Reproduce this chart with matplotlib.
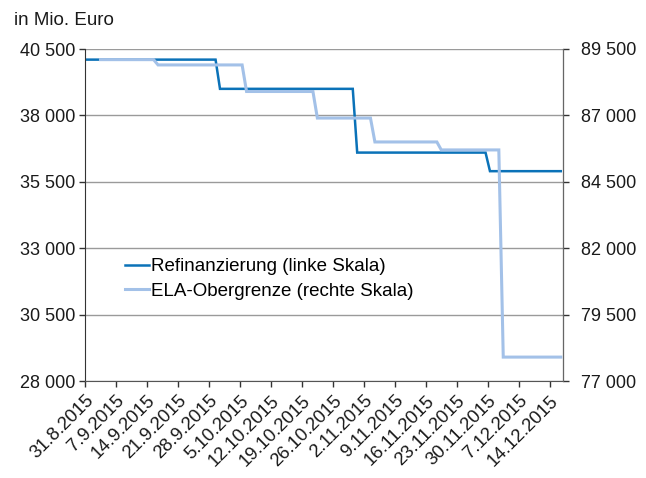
import matplotlib
matplotlib.use("Agg")
import matplotlib.pyplot as plt
import pandas as pd
from matplotlib.ticker import FuncFormatter

# Refinanzierung (left scale), breakpoints of the daily series
ref_dates = ["2015-08-31", "2015-09-29", "2015-09-30", "2015-10-30", "2015-10-31",
             "2015-11-29", "2015-11-30", "2015-12-16"]
ref_values = [40100, 40100, 39000, 39000, 36600, 36600, 35900, 35900]

# ELA-Obergrenze (right scale)
ela_dates = ["2015-09-03", "2015-09-15", "2015-09-16", "2015-10-05", "2015-10-06",
             "2015-10-21", "2015-10-22", "2015-11-03", "2015-11-04", "2015-11-18",
             "2015-11-19", "2015-12-02", "2015-12-03", "2015-12-16"]
ela_values = [89100, 89100, 88900, 88900, 87900, 87900, 86900, 86900, 86000, 86000,
              85700, 85700, 77900, 77900]

tick_dates = pd.date_range("2015-08-31", "2015-12-14", freq="7D")
left_ticks = [28000, 30500, 33000, 35500, 38000, 40500]
right_ticks = [77000, 79500, 82000, 84500, 87000, 89500]

DARK = "#0b72b8"
LIGHT = "#a3c1e8"

plt.rcParams["font.family"] = ["Liberation Sans", "DejaVu Sans"]


def thousands(v, pos):
    return f"{int(v):,}".replace(",", " ")


# daily points sit in the middle of each day
half_day = pd.Timedelta(hours=12)
ref_x = pd.to_datetime(ref_dates) + half_day
ela_x = pd.to_datetime(ela_dates) + half_day

fig = plt.figure(figsize=(6.46, 4.78), dpi=100)
ax = fig.add_axes([85 / 646, 1 - 381 / 478, (563 - 85) / 646, (381 - 49) / 478])
ax2 = ax.twinx()

ax.plot(ref_x, ref_values, color=DARK, lw=1.8, label="Refinanzierung (linke Skala)",
        solid_joinstyle="miter")
ax2.plot(ela_x, ela_values, color=LIGHT, lw=2.2, label="ELA-Obergrenze (rechte Skala)",
         solid_joinstyle="miter")

ax.set_xlim(pd.Timestamp("2015-08-31"), pd.Timestamp("2015-12-17"))
ax.set_ylim(28000, 40500)
ax2.set_ylim(77000, 89500)
ax.set_yticks(left_ticks)
ax2.set_yticks(right_ticks)
ax.yaxis.set_major_formatter(FuncFormatter(thousands))
ax2.yaxis.set_major_formatter(FuncFormatter(thousands))

ax.set_xticks(tick_dates)
ax.set_xticklabels([f"{d.day}.{d.month}.{d.year}" for d in tick_dates])
for lbl in ax.get_xticklabels():
    lbl.set_rotation(45)
    lbl.set_ha("right")
    lbl.set_rotation_mode("anchor")

ax.grid(axis="y", color="#9a9a9a", lw=1)
ax.set_axisbelow(True)

for a in (ax, ax2):
    a.spines["top"].set_visible(False)
    a.tick_params(labelsize=13, length=4, width=1, colors="#333333", labelcolor="#1a1a1a")
ax.tick_params(axis="x", labelsize=13.3, pad=4)
ax.spines["left"].set_color("#333333")
ax.spines["bottom"].set_color("#555555")
ax2.spines["right"].set_color("#666666")
ax2.spines["left"].set_visible(False)
ax2.spines["bottom"].set_visible(False)
ax.tick_params(axis="y", pad=3)
ax2.tick_params(axis="y", pad=9)

fig.text(14 / 646, 1 - 25 / 478, "in Mio. Euro", fontsize=13.5, color="#1a1a1a")

h1, l1 = ax.get_legend_handles_labels()
h2, l2 = ax2.get_legend_handles_labels()
ax2.legend(h1 + h2, l1 + l2, loc="upper left", bbox_to_anchor=(125 / 646, 1 - 258 / 478),
           bbox_transform=fig.transFigure, frameon=False, fontsize=13.5,
           handlelength=1.3, handletextpad=0.1, borderpad=0, borderaxespad=0,
           labelspacing=0.4)

fig.savefig("out.png", dpi=100)
